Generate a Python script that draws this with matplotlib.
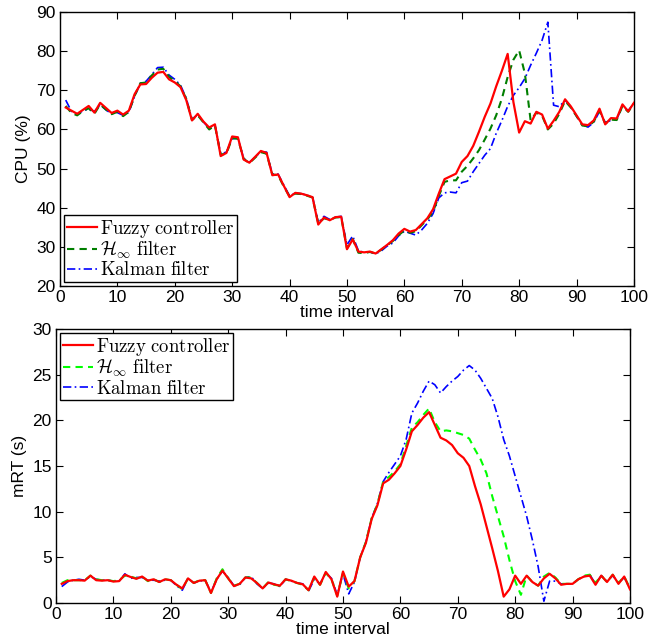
import matplotlib
matplotlib.use("Agg")
import matplotlib.pyplot as plt
import numpy as np

plt.rcParams['font.family'] = ['Liberation Sans', 'DejaVu Sans']
plt.rcParams['mathtext.fontset'] = 'cm'

t = np.arange(1, 101)

cpu_fuzzy = [65.6, 64.8, 64.0, 65.0, 66.0, 64.3, 66.8, 65.5, 64.2, 64.8,
             63.8, 64.8, 69.0, 71.5, 71.6, 73.2, 74.5, 74.7, 72.8, 72.0,
             70.8, 67.5, 62.3, 64.0, 62.0, 60.5, 61.3, 53.2, 54.0, 58.2,
             58.0, 52.3, 51.5, 53.0, 54.5, 54.0, 48.3, 48.5, 45.6, 42.7,
             43.8, 43.6, 43.2, 42.7, 35.7, 37.5, 36.8, 37.6, 37.7, 29.4,
             31.9, 28.8, 28.6, 28.8, 28.3, 29.4, 30.5, 31.7, 33.4, 34.6,
             33.9, 34.3, 35.8, 37.3, 39.6, 43.6, 47.3, 48.0, 48.7, 51.7,
             53.2, 55.8, 59.4, 63.2, 66.6, 71.0, 75.0, 79.3, 67.0, 59.2,
             62.1, 61.5, 64.5, 63.8, 60.2, 62.2, 64.5, 67.7, 65.9, 63.6,
             61.3, 61.1, 62.3, 65.3, 61.3, 62.9, 62.8, 66.4, 64.6, 66.8]

cpu_hinf = [66.0, 64.2, 63.6, 64.7, 65.4, 64.0, 66.4, 65.1, 63.9, 64.5,
            63.4, 64.5, 68.6, 71.8, 72.0, 73.8, 75.3, 75.5, 73.4, 72.4,
            71.0, 67.8, 62.4, 63.6, 61.8, 60.0, 61.0, 53.6, 53.8, 57.8,
            57.6, 52.5, 51.4, 52.8, 54.2, 53.8, 48.5, 48.3, 45.4, 42.9,
            43.6, 43.5, 43.1, 42.6, 36.0, 37.3, 36.9, 37.5, 37.6, 29.6,
            32.0, 28.5, 28.4, 28.7, 28.3, 29.3, 30.4, 31.5, 33.0, 34.2,
            33.6, 34.0, 35.5, 37.0, 39.0, 43.0, 46.6, 47.0, 47.0, 49.2,
            50.7, 52.6, 54.7, 57.4, 60.2, 63.6, 67.9, 73.4, 77.8, 80.2,
            74.3, 62.3, 64.3, 63.5, 60.0, 61.5, 64.0, 67.3, 65.6, 63.4,
            61.0, 60.8, 62.0, 64.8, 61.5, 62.5, 62.4, 66.0, 64.5, 66.6]

cpu_kalman = [67.5, 64.6, 63.8, 64.8, 65.2, 64.6, 66.3, 65.0, 64.0, 64.3,
              63.6, 64.4, 68.4, 71.8, 72.3, 74.0, 75.8, 75.9, 73.9, 72.8,
              71.3, 68.0, 62.6, 63.8, 61.9, 60.3, 61.1, 53.8, 54.2, 57.6,
              57.8, 52.6, 51.6, 52.9, 54.3, 54.2, 48.6, 48.6, 45.8, 43.0,
              43.7, 43.6, 43.2, 42.8, 36.2, 37.8, 37.0, 37.6, 37.8, 30.5,
              32.8, 29.0, 28.6, 28.7, 28.2, 29.0, 30.2, 31.0, 32.8, 34.0,
              33.5, 33.0, 34.3, 36.0, 38.5, 42.5, 43.8, 44.0, 43.8, 46.4,
              46.8, 49.2, 51.3, 53.4, 55.1, 59.0, 62.3, 65.9, 68.7, 70.7,
              73.0, 76.4, 79.5, 82.8, 87.4, 66.2, 65.8, 67.5, 65.8, 63.4,
              61.2, 60.6, 61.8, 64.6, 61.8, 62.3, 62.6, 66.0, 64.8, 66.7]

rt_fuzzy = [2.1, 2.4, 2.5, 2.5, 2.45, 3.0, 2.5, 2.45, 2.5, 2.35,
            2.4, 3.1, 2.85, 2.65, 2.9, 2.45, 2.6, 2.3, 2.6, 2.5,
            2.0, 1.6, 2.7, 2.2, 2.45, 2.5, 1.1, 2.6, 3.55, 2.7,
            1.85, 2.1, 2.8, 2.7, 2.2, 1.6, 2.25, 2.05, 1.9, 2.6,
            2.45, 2.2, 2.05, 1.4, 2.9, 2.0, 3.4, 2.6, 0.7, 3.45,
            1.8, 2.4, 5.0, 6.6, 9.2, 10.7, 13.1, 13.5, 14.2, 15.0,
            16.8, 18.8, 19.5, 20.3, 20.9, 19.5, 18.1, 17.8, 17.3, 16.4,
            15.9, 15.0, 12.8, 10.8, 8.4, 6.0, 3.5, 0.7, 1.5, 3.0,
            2.1, 3.0, 2.3, 1.9, 2.7, 3.2, 2.7, 2.0, 2.1, 2.1,
            2.6, 2.9, 3.0, 2.0, 3.0, 2.3, 3.1, 2.1, 2.9, 1.5]

rt_hinf = [2.2, 2.5, 2.5, 2.5, 2.5, 3.0, 2.6, 2.5, 2.5, 2.4,
           2.5, 3.0, 2.9, 2.7, 2.9, 2.4, 2.6, 2.3, 2.6, 2.5,
           2.0, 1.5, 2.7, 2.2, 2.5, 2.5, 1.1, 2.7, 3.7, 2.7,
           1.9, 2.1, 2.8, 2.8, 2.2, 1.6, 2.3, 2.0, 1.9, 2.6,
           2.4, 2.2, 2.0, 1.4, 2.8, 2.0, 3.3, 2.6, 0.8, 3.3,
           1.6, 2.4, 5.0, 6.7, 9.3, 10.8, 13.3, 13.8, 14.4, 15.2,
           17.2, 19.2, 19.8, 20.6, 21.3, 19.8, 18.8, 18.9, 18.8, 18.6,
           18.4, 18.0, 16.8, 15.7, 14.2, 11.7, 9.5, 7.3, 4.7, 2.4,
           0.9, 3.0, 2.3, 1.9, 2.9, 3.3, 2.8, 2.1, 2.1, 2.1,
           2.6, 3.0, 3.1, 2.2, 3.0, 2.3, 3.1, 2.2, 2.9, 1.6]

rt_kalman = [1.8, 2.3, 2.5, 2.6, 2.5, 2.9, 2.6, 2.5, 2.5, 2.4,
             2.4, 3.2, 2.7, 2.8, 2.8, 2.5, 2.5, 2.4, 2.5, 2.5,
             1.9, 1.4, 2.7, 2.2, 2.4, 2.5, 1.2, 2.6, 3.5, 2.8,
             1.9, 2.0, 2.8, 2.9, 2.1, 1.6, 2.2, 2.1, 1.8, 2.6,
             2.4, 2.2, 2.1, 1.3, 2.6, 2.1, 3.3, 2.7, 0.9, 3.2,
             1.0, 2.3, 5.0, 6.7, 9.3, 10.9, 13.3, 14.3, 15.2, 16.1,
             17.9, 20.8, 21.9, 23.2, 24.3, 23.9, 23.0, 23.7, 24.3, 24.8,
             25.5, 26.0, 25.5, 24.6, 23.5, 22.4, 20.4, 17.9, 16.1, 13.9,
             11.7, 9.5, 6.9, 4.0, 0.2, 2.4, 2.4, 2.1, 2.1, 2.1,
             2.6, 2.9, 3.1, 2.1, 3.0, 2.4, 3.0, 2.2, 2.8, 1.6]

labels = [r'$\mathrm{Fuzzy\ controller}$', r'$\mathcal{H}_{\infty}\ \mathrm{filter}$',
          r'$\mathrm{Kalman\ filter}$']

fig = plt.figure(figsize=(6.62, 6.42), dpi=100)
ax1 = fig.add_axes([0.0906, 0.5545, 0.867, 0.4268])
ax2 = fig.add_axes([0.0846, 0.0607, 0.867, 0.4268])


def style(ax, ylim, yticks, ylabel):
    ax.set_xlim(0, 100)
    ax.set_ylim(*ylim)
    ax.set_xticks(np.arange(0, 101, 10))
    ax.set_yticks(yticks)
    ax.tick_params(direction='in', top=True, right=True, length=5, width=0.8,
                   labelsize=12.5, pad=3)
    for s in ax.spines.values():
        s.set_linewidth(1.0)
    ax.set_xlabel('time interval', fontsize=12.5, labelpad=0)
    ax.set_ylabel(ylabel, fontsize=12.5, labelpad=4)


def legend(ax, handles, loc):
    ax.legend(handles, labels, loc=loc, fontsize=13.5, fancybox=False,
              edgecolor='black', framealpha=1, borderaxespad=0.2, borderpad=0.15,
              labelspacing=0.02, handlelength=1.6, handletextpad=0.2)


l1, = ax1.plot(t, cpu_fuzzy, color='#ff0000', lw=1.6, zorder=3)
l2, = ax1.plot(t, cpu_hinf, color='#007f00', lw=1.5, ls=(0, (3.5, 2.5)), zorder=2)
l3, = ax1.plot(t, cpu_kalman, color='#0000ff', lw=1.2, ls=(0, (5, 2, 1, 2)), zorder=1)
style(ax1, (20, 90), np.arange(20, 91, 10), 'CPU (%)')
legend(ax1, [l1, l2, l3], 'lower left')

m1, = ax2.plot(t, rt_fuzzy, color='#ff0000', lw=1.6, zorder=3)
m2, = ax2.plot(t, rt_hinf, color='#00ff00', lw=1.5, ls=(0, (3.5, 2.5)), zorder=2)
m3, = ax2.plot(t, rt_kalman, color='#0000ff', lw=1.2, ls=(0, (5, 2, 1, 2)), zorder=1)
style(ax2, (0, 30), np.arange(0, 31, 5), 'mRT (s)')
legend(ax2, [m1, m2, m3], 'upper left')

fig.savefig('out.png', dpi=100)
